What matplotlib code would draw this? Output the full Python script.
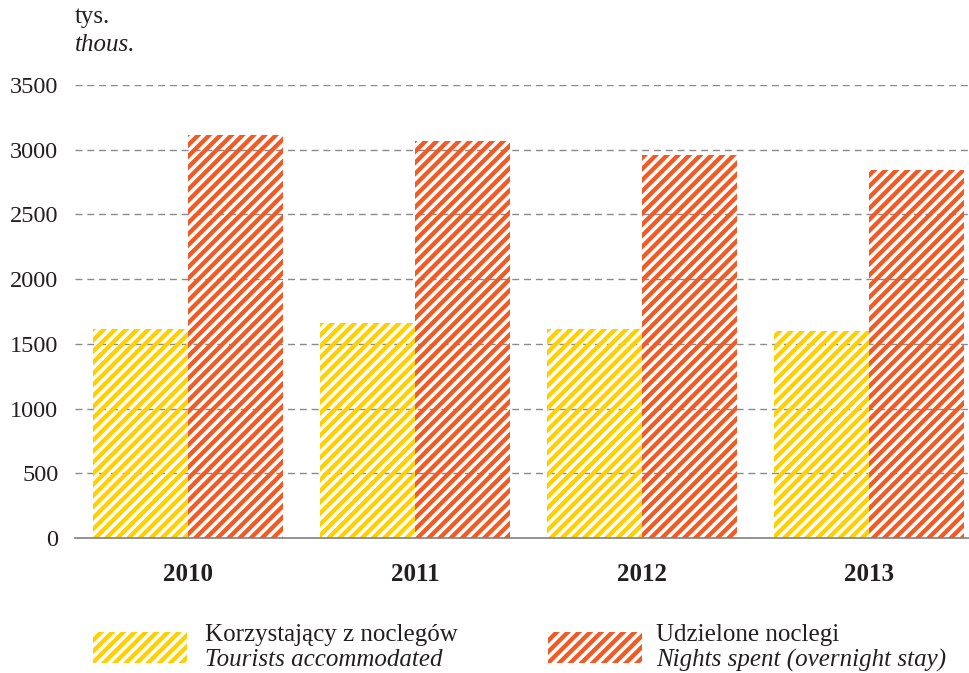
import matplotlib
matplotlib.use("Agg")
from matplotlib import pyplot as plt
from matplotlib.patches import Rectangle
import numpy as np

plt.rcParams['font.family'] = ['Liberation Serif', 'DejaVu Serif']
plt.rcParams['hatch.linewidth'] = 3.1

# dane
years = ["2010", "2011", "2012", "2013"]
tourists = [1613, 1664, 1617, 1597]
nights = [3114, 3068, 2960, 2846]
yticks = [0, 500, 1000, 1500, 2000, 2500, 3000, 3500]

yellow = "#FFD000"
orange = "#F15A24"
txt = "#231f20"

fig = plt.figure(figsize=(9.69, 6.73), dpi=100)
ax = fig.add_axes([75 / 969, 135 / 673, 894 / 969, 453 / 673])

x = np.arange(len(years))
w = 0.4185
ax.bar(x - w / 2, tourists, w, facecolor="none", edgecolor=yellow,
       linewidth=0, hatch="///", zorder=2)
ax.bar(x + w / 2, nights, w, facecolor="none", edgecolor=orange,
       linewidth=0, hatch="///", zorder=2)

ax.set_xlim(-0.498, 3.44)
ax.set_ylim(0, 3500)
ax.set_yticks(yticks)
ax.set_yticklabels([str(v) for v in yticks], fontsize=17.5, color=txt)
ax.set_xticks(x)
ax.set_xticklabels(years, fontsize=18, fontweight="bold", color=txt)
ax.tick_params(axis="both", length=0)
ax.tick_params(axis="y", pad=12)
ax.tick_params(axis="x", pad=18)

for s in ["left", "right", "top"]:
    ax.spines[s].set_visible(False)
ax.spines["bottom"].set_color("#808080")
ax.spines["bottom"].set_linewidth(1.2)
ax.spines["bottom"].set_zorder(3)

# linie siatki (widoczne przez przerwy w kreskowaniu)
for v in yticks[1:]:
    ax.axhline(v, color="#8a8a8a", linestyle=(0, (5, 3.5)), linewidth=1.0, zorder=1)

# jednostka
fig.text(75 / 969, 1 - 17 / 673, "tys.", fontsize=18, va="center", ha="left", color=txt)
fig.text(75 / 969, 1 - 45 / 673, "thous.", fontsize=18, style="italic", va="center", ha="left", color=txt)

# legenda
legend_items = [
    (93, 112, yellow, "Korzystający z noclegów", "Tourists accommodated"),
    (548, 108, orange, "Udzielone noclegi", "Nights spent (overnight stay)"),
]
for px, off, col, pl, en in legend_items:
    r = Rectangle((px / 969, 1 - 663 / 673), 94 / 969, 31 / 673, transform=fig.transFigure,
                  facecolor="none", edgecolor=col, linewidth=0, hatch="///")
    fig.add_artist(r)
    fig.text((px + off) / 969, 1 - 635 / 673, pl, fontsize=18, va="center", ha="left", color=txt)
    fig.text((px + off) / 969, 1 - 660 / 673, en, fontsize=18, style="italic", va="center", ha="left", color=txt)

fig.savefig("out.png", dpi=100)
